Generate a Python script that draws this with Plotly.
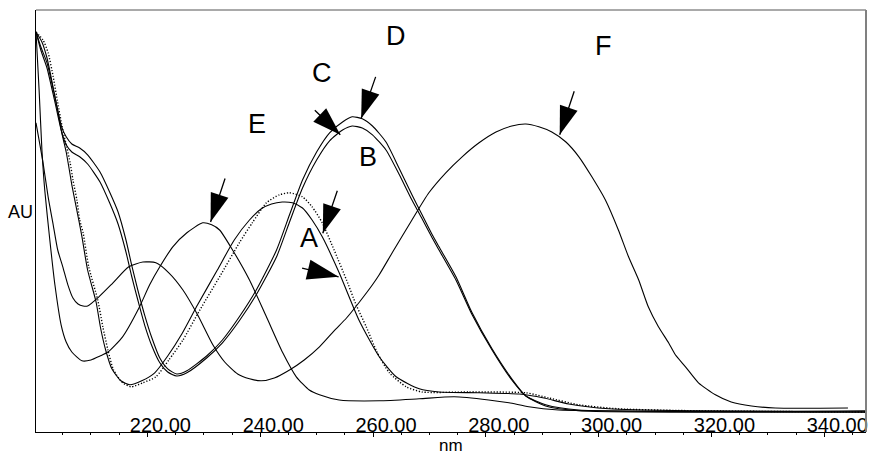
import math
import plotly.graph_objects as go

# ---- UV spectra: wavelength (nm) / absorbance (AU) ----
# A: dotted spectrum
wl_a = [200.25, 201.5, 202.4, 203.3, 204.1, 205.0, 205.7, 206.3, 206.8, 207.5, 208.0, 208.6,
        209.6, 211.2, 212.1, 213.0, 214.0, 215.6, 217.1, 219.2, 221.5, 223.8, 226.3, 229.3,
        232.8, 236.3, 238.6, 241.1, 243.4, 245.2, 247.5, 249.2, 251.0, 253.1, 255.3, 257.0,
        258.8, 260.7, 262.9, 265.9, 268.7, 277.0, 287.1, 291.2, 296.5, 303.5, 317.7, 347.4]
au_a = [0.950, 0.930, 0.898, 0.838, 0.773, 0.705, 0.663, 0.623, 0.580, 0.530, 0.480, 0.448,
        0.363, 0.280, 0.213, 0.155, 0.105, 0.073, 0.063, 0.073, 0.088, 0.130, 0.180, 0.255,
        0.338, 0.423, 0.473, 0.523, 0.543, 0.548, 0.538, 0.513, 0.473, 0.405, 0.330, 0.268,
        0.213, 0.150, 0.098, 0.063, 0.050, 0.050, 0.048, 0.035, 0.018, 0.008, 0.003, 0.000]

# B: solid spectrum next to A
wl_b = [200.25, 201.3, 202.2, 203.1, 204.0, 204.9, 205.6, 206.1, 206.6, 207.3, 207.9, 208.4,
        209.4, 210.9, 211.7, 212.6, 213.7, 215.3, 216.9, 219.0, 221.3, 223.6, 226.1, 228.9,
        232.4, 235.4, 238.1, 240.2, 242.0, 243.9, 245.7, 247.5, 249.2, 251.0, 254.0, 257.5,
        261.1, 264.1, 268.2, 271.7, 278.8, 285.9, 290.3, 294.7, 301.8, 317.7, 347.4]
au_b = [0.950, 0.925, 0.885, 0.825, 0.760, 0.693, 0.650, 0.610, 0.568, 0.518, 0.475, 0.438,
        0.355, 0.275, 0.210, 0.155, 0.108, 0.078, 0.068, 0.078, 0.098, 0.140, 0.195, 0.268,
        0.355, 0.430, 0.480, 0.508, 0.520, 0.525, 0.523, 0.510, 0.480, 0.438, 0.348, 0.230,
        0.138, 0.088, 0.058, 0.050, 0.048, 0.045, 0.035, 0.020, 0.008, 0.003, 0.000]

# C: inner spectrum of the 256 nm pair
wl_c = [200.25, 201.1, 202.2, 203.6, 204.8, 205.6, 206.6, 208.0, 209.4, 211.6, 213.3, 214.8,
        216.2, 217.2, 218.3, 219.5, 220.8, 222.2, 223.6, 225.2, 227.0, 230.5, 233.3, 236.3,
        239.3, 242.9, 245.2, 247.5, 250.0, 252.3, 254.6, 256.3, 258.1, 259.9, 262.3, 264.6,
        266.9, 268.7, 270.5, 271.7, 274.7, 277.5, 281.1, 284.6, 287.1, 290.6, 296.5, 347.4]
au_c = [0.950, 0.905, 0.860, 0.775, 0.700, 0.668, 0.650, 0.638, 0.620, 0.575, 0.523, 0.470,
        0.400, 0.340, 0.280, 0.218, 0.165, 0.123, 0.100, 0.090, 0.098, 0.135, 0.173, 0.228,
        0.293, 0.388, 0.475, 0.560, 0.630, 0.678, 0.705, 0.715, 0.710, 0.693, 0.655, 0.595,
        0.530, 0.483, 0.435, 0.405, 0.330, 0.245, 0.155, 0.080, 0.040, 0.018, 0.005, 0.003]

# D: outer spectrum of the 256 nm pair
wl_d = [200.25, 201.1, 202.2, 203.6, 204.8, 205.6, 206.6, 208.0, 209.4, 211.6, 213.3, 214.8,
        216.2, 217.2, 218.3, 219.5, 220.8, 222.2, 223.6, 225.2, 227.0, 230.5, 233.3, 236.3,
        239.3, 242.9, 245.2, 247.5, 250.0, 252.3, 254.6, 256.3, 258.1, 259.9, 262.3, 264.6,
        266.9, 268.7, 270.5, 271.7, 274.7, 277.5, 281.1, 284.6, 287.1, 290.6, 296.5, 347.4]
au_d = [0.950, 0.913, 0.873, 0.788, 0.713, 0.688, 0.670, 0.660, 0.643, 0.600, 0.550, 0.500,
        0.430, 0.368, 0.305, 0.243, 0.185, 0.135, 0.108, 0.095, 0.103, 0.140, 0.180, 0.238,
        0.305, 0.405, 0.493, 0.580, 0.650, 0.698, 0.725, 0.738, 0.733, 0.715, 0.675, 0.610,
        0.543, 0.493, 0.443, 0.413, 0.338, 0.250, 0.158, 0.083, 0.040, 0.015, 0.003, 0.000]

# E: spectrum with the 229 nm band
wl_e = [200.25, 200.8, 201.3, 201.8, 202.7, 203.6, 204.7, 205.6, 206.6, 208.4, 210.0, 211.6,
        213.0, 215.6, 218.5, 220.4, 222.2, 224.5, 227.0, 229.8, 231.4, 232.8, 235.1, 238.1,
        241.1, 244.0, 246.4, 248.7, 250.5, 254.0, 261.1, 268.2, 274.4, 280.5, 284.1, 287.6,
        292.9, 300.0, 317.7, 347.4]
au_e = [0.950, 0.805, 0.655, 0.555, 0.430, 0.318, 0.218, 0.175, 0.150, 0.128, 0.130, 0.140,
        0.150, 0.188, 0.260, 0.318, 0.363, 0.413, 0.448, 0.473, 0.468, 0.455, 0.405, 0.330,
        0.238, 0.148, 0.088, 0.055, 0.043, 0.030, 0.028, 0.033, 0.038, 0.030, 0.023, 0.013,
        0.005, 0.003, 0.001, 0.000]

# F: spectrum with bands at 219 nm and 287 nm
wl_f = [200.25, 201.5, 202.4, 203.3, 204.1, 205.0, 205.9, 206.8, 207.7, 208.6, 209.4, 211.4,
        213.9, 216.7, 219.2, 221.5, 223.8, 226.3, 228.9, 231.6, 233.7, 236.0, 238.1, 240.2,
        242.5, 245.2, 247.8, 250.5, 253.1, 255.3, 257.6, 259.9, 261.1, 263.4, 266.9, 269.9,
        272.9, 275.8, 278.8, 281.8, 284.6, 287.1, 289.4, 291.7, 294.2, 296.5, 298.8, 301.2,
        303.5, 305.3, 307.1, 308.8, 310.6, 312.4, 313.6, 315.4, 317.7, 320.7, 323.5, 327.1,
        331.3, 344.2]
au_f = [0.723, 0.623, 0.538, 0.468, 0.405, 0.363, 0.318, 0.285, 0.270, 0.265, 0.265, 0.288,
        0.323, 0.363, 0.375, 0.373, 0.348, 0.305, 0.243, 0.168, 0.125, 0.095, 0.083, 0.078,
        0.085, 0.105, 0.130, 0.163, 0.203, 0.235, 0.275, 0.318, 0.343, 0.398, 0.480, 0.548,
        0.598, 0.638, 0.673, 0.700, 0.715, 0.720, 0.713, 0.700, 0.675, 0.638, 0.588, 0.530,
        0.455, 0.388, 0.330, 0.263, 0.213, 0.173, 0.143, 0.113, 0.073, 0.043, 0.025, 0.015,
        0.010, 0.010]

# Peak letters: (text, wavelength, AU)
peak_labels = [("A", 248.7, 0.435), ("B", 259.1, 0.638), ("C", 251.0, 0.848),
               ("D", 264.1, 0.940), ("E", 239.5, 0.720), ("F", 300.9, 0.915)]

# Arrows: tip (wavelength, AU), tail offset in px, head size
arrows = [
    dict(x=231.2, y=0.475, ax=15, ay=-45, size=30),
    dict(x=254.2, y=0.693, ax=-27, ay=-26, size=30),
    dict(x=257.9, y=0.734, ax=15, ay=-43, size=30),
    dict(x=293.1, y=0.693, ax=15, ay=-45, size=30),
    dict(x=251.1, y=0.447, ax=15, ay=-44, size=30),
    dict(x=253.9, y=0.338, ax=-38, ay=-9, size=33),
]

FONT = "Liberation Sans, Arial, sans-serif"

fig = go.Figure()

solid = dict(color="black", width=1.1, shape="spline", smoothing=0.6)
fig.add_trace(go.Scatter(x=wl_a, y=au_a, mode="lines", name="A",
                         line=dict(color="black", width=1.4, dash="1.2px,1.8px",
                                   shape="spline", smoothing=0.6)))
for name, wl, au in [("B", wl_b, au_b), ("C", wl_c, au_c), ("D", wl_d, au_d),
                     ("E", wl_e, au_e), ("F", wl_f, au_f)]:
    fig.add_trace(go.Scatter(x=wl, y=au, mode="lines", name=name, line=solid))

# arrow shafts
for a in arrows:
    fig.add_annotation(x=a["x"], y=a["y"], ax=a["ax"], ay=a["ay"], text="",
                       showarrow=True, arrowhead=0, arrowwidth=1.3,
                       arrowcolor="black", standoff=0)

# filled arrow heads, rotated along each shaft
fig.add_trace(go.Scatter(
    x=[a["x"] for a in arrows], y=[a["y"] for a in arrows], mode="markers",
    hoverinfo="skip",
    marker=dict(symbol="arrow", color="#000000", opacity=1, line=dict(width=0),
                size=[a["size"] for a in arrows],
                angle=[math.degrees(math.atan2(-a["ax"], a["ay"])) for a in arrows])))

for text, x, y in peak_labels:
    fig.add_annotation(x=x, y=y, text=text, showarrow=False,
                       font=dict(family=FONT, size=27, color="black"))

fig.add_annotation(xref="paper", yref="paper", x=0, y=0.5225, xanchor="right",
                   yanchor="middle", xshift=-1, text="AU", showarrow=False,
                   font=dict(family=FONT, size=18, color="black"))
fig.add_annotation(xref="paper", yref="paper", x=0.5, y=-0.031, xanchor="center",
                   yanchor="middle", text="nm", showarrow=False,
                   font=dict(family=FONT, size=17, color="black"))

# top and right frame edges
fig.add_shape(type="line", xref="paper", yref="paper", x0=0, x1=1, y0=1, y1=1,
              line=dict(color="#555555", width=1))
fig.add_shape(type="line", xref="paper", yref="paper", x0=1, x1=1, y0=0, y1=1,
              line=dict(color="#808080", width=2))

fig.update_layout(
    width=872, height=457,
    margin=dict(l=36, r=4, t=10, b=25),
    paper_bgcolor="white", plot_bgcolor="white",
    showlegend=False,
    font=dict(family=FONT, color="black"),
    xaxis=dict(range=[200.25, 347.4], showgrid=False, zeroline=False,
               showline=True, linecolor="black", linewidth=1,
               tick0=200, dtick=20, tickformat=".2f",
               ticks="outside", ticklen=4, tickcolor="black", tickwidth=1,
               ticklabelposition="inside", ticklabelshift=13, ticklabelstandoff=-3,
               ticklabeloverflow="allow",
               tickfont=dict(family=FONT, size=20, color="black"),
               minor=dict(dtick=5, ticks="outside", ticklen=2, tickcolor="black")),
    yaxis=dict(range=[-0.05, 1.005], showgrid=False, zeroline=False,
               showline=True, linecolor="black", linewidth=1,
               showticklabels=False, ticks=""),
)

fig.write_html("out.html")
